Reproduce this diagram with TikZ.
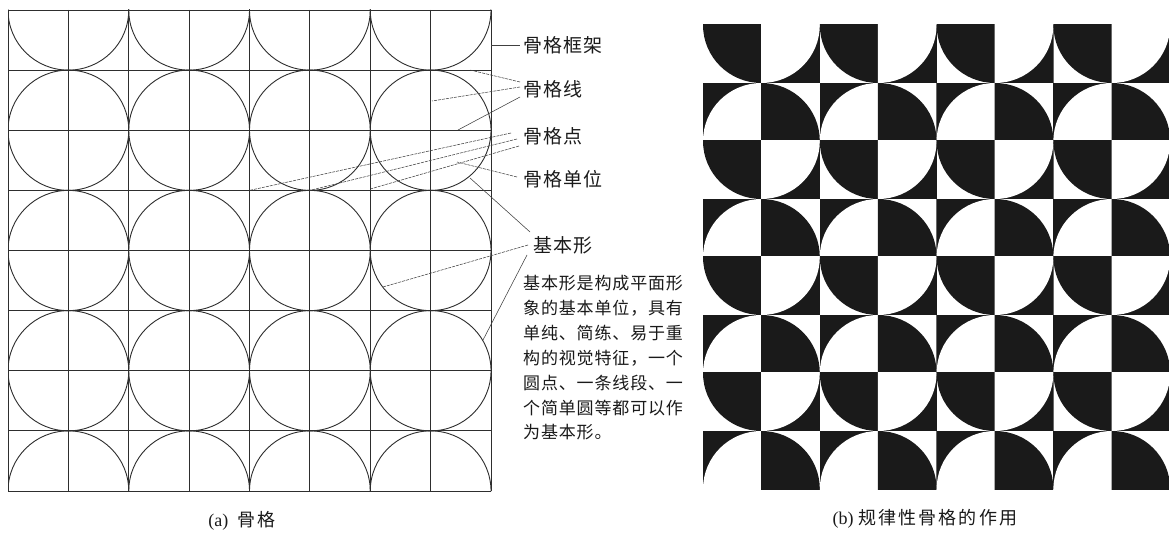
\documentclass[tikz,border=0pt]{standalone}
\usepackage{fontspec}
\setmainfont{Liberation Serif}
\newfontfamily\cjklab[LetterSpace=5]{Noto Sans CJK SC}
\newfontfamily\cjkdesc[LetterSpace=5]{Noto Sans CJK SC}
\newfontfamily\cjkcap[LetterSpace=12]{Noto Sans CJK SC}
\usetikzlibrary{calc}
\definecolor{ink}{HTML}{1A1A1A}
\begin{document}
\begin{tikzpicture}[x=1pt,y=-1pt,
  gridln/.style={line width=0.95pt, draw=black!82},
  circ/.style={line width=0.9pt, draw=black!82},
  leader/.style={line width=0.55pt, draw=black!75},
  dleader/.style={leader, dash pattern=on 3pt off 1pt},
  lab/.style={inner sep=0pt, anchor=west, text=ink, font=\cjklab\fontsize{19}{19}\selectfont},
  desc/.style={inner sep=0pt, anchor=west, text=ink, font=\cjkdesc\fontsize{17}{17}\selectfont},
  captext/.style={inner sep=0pt, text=ink, font=\fontsize{18}{18}\selectfont}]
\useasboundingbox (0,0) rectangle (1169,540);
\fill[white] (0,0) rectangle (1169,540);

% ---------- (a) skeleton grid ----------
\begin{scope}
  \clip (8,10) rectangle (491,491);
  \foreach \i in {0,...,3}
    \foreach \j in {0,...,4}
      \draw[circ] ({8+(2*\i+1)*60.375},{10+2*\j*60.125}) ellipse [x radius=60.375, y radius=60.125];
\end{scope}
\foreach \k in {0,...,8} {
  \draw[gridln] ({8+\k*60.375},10) -- ({8+\k*60.375},491);
  \draw[gridln] (8,{10+\k*60.125}) -- (491,{10+\k*60.125});
}

% ---------- labels ----------
\node[lab] (kj)  at (523,45)  {骨格框架};
\node[lab] (gxl) at (523,89)  {骨格线};
\node[lab] (gxd) at (523,136) {骨格点};
\node[lab] (gxu) at (523,179) {骨格单位};
\node[lab] (jbx) at (533,245) {基本形};

\coordinate (kjp) at (491,45);
\coordinate (l1) at (470,70);
\coordinate (l2) at (432,101);
\coordinate (l3) at (458,130);
\coordinate (d1) at (249.5,190.4);
\coordinate (d2) at (309.9,190.4);
\coordinate (d3) at (370.3,189);
\coordinate (u1) at (457,162);
\coordinate (b1) at (470,178);
\coordinate (b2) at (383,287);
\coordinate (b3) at (483,340);

\draw[leader] (kjp) -- ($(kj.west)+(-3,0)$);
\draw[dleader] ($(gxl.west)+(-3,-7)$) -- (l1);
\draw[dleader] ($(gxl.west)+(-3,-2)$) -- (l2);
\draw[leader]  ($(gxl.west)+(-3,8)$) -- (l3);
\draw[dleader] ($(gxd.west)+(-12,-3)$) -- (d1);
\draw[dleader] ($(gxd.west)+(-6,3)$) -- (d2);
\draw[dleader] ($(gxd.west)+(-4,10)$) -- (d3);
\draw[dleader] ($(gxu.west)+(-6,-2)$) -- (u1);
\draw[leader]  ($(jbx.west)+(-3,-13)$) -- (b1);
\draw[dleader] ($(jbx.west)+(-5,0)$) -- (b2);
\draw[leader]  ($(jbx.west)+(-6,10)$) -- (b3);

% ---------- description ----------
\node[desc] (t1) at (523,283) {基本形是构成平面形};
\node[desc] (t2) at (523,308) {象的基本单位，具有};
\node[desc] (t3) at (523,333) {单纯、简练、易于重};
\node[desc] (t4) at (523,358) {构的视觉特征，一个};
\node[desc] (t5) at (523,383) {圆点、一条线段、一};
\node[desc] (t6) at (523,408) {个简单圆等都可以作};
\node[desc] (t7) at (523,432) {为基本形。};

% ---------- (b) pattern ----------
\begin{scope}
  \clip (703,25) rectangle (1169,489);
  \foreach \c in {0,...,7}
    \foreach \r in {0,...,7} {
      \pgfmathsetmacro\xl{703+\c*58.4}
      \pgfmathsetmacro\yt{25+\r*58}
      \pgfmathsetmacro\cx{703+(\c+1-mod(\c,2))*58.4}
      \pgfmathsetmacro\cy{25+(\r+mod(\r,2))*58}
      \pgfmathtruncatemacro\pp{mod(\c+\r,2)}
      \begin{scope}
        \clip (\xl-0.3,\yt-0.3) rectangle ++(59,58.6);
        \ifnum\pp=0
          \fill[ink] (\cx,\cy) ellipse [x radius=58.4, y radius=58];
        \else
          \fill[ink] (\xl-0.3,\yt-0.3) rectangle ++(59,58.6);
          \fill[white] (\cx,\cy) ellipse [x radius=58.4, y radius=58];
        \fi
      \end{scope}
    }
\end{scope}

% ---------- captions ----------
\node[captext] (capa) at (242,521) {(a)\hspace{0.5em}{\cjkcap 骨格}};
\node[captext] (capb) at (925,519) {(b)\hspace{0.25em}{\cjkcap 规律性骨格的作用}};
\end{tikzpicture}
\end{document}
